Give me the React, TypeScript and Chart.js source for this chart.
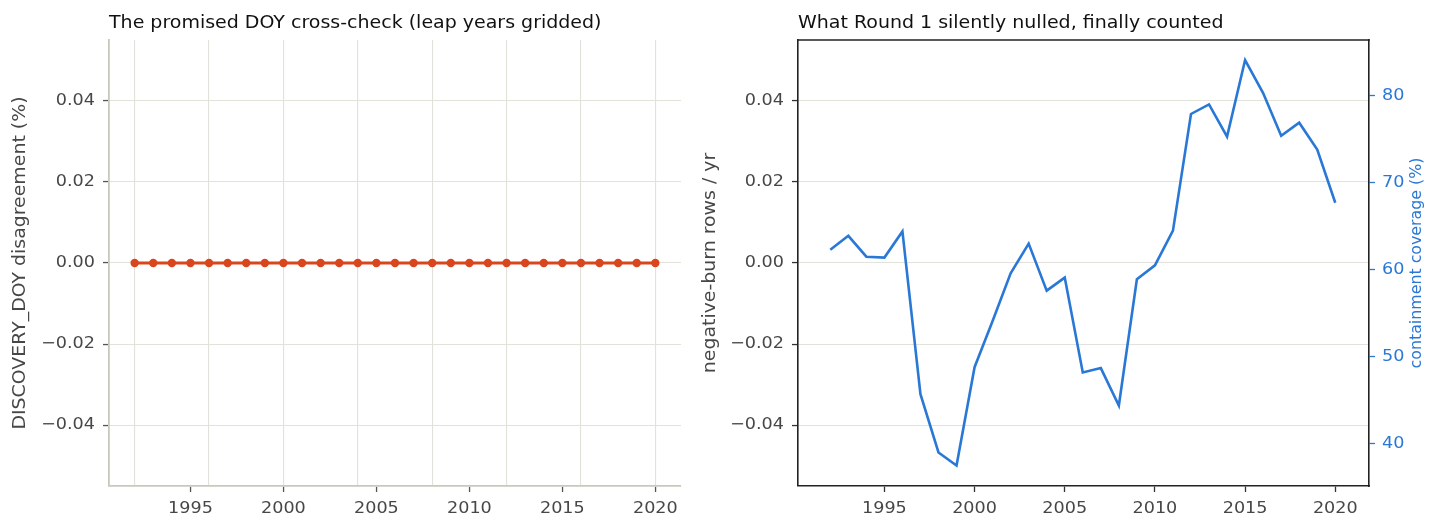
import React, { useEffect, useRef } from "react";
import { Chart, registerables } from "chart.js";
Chart.register(...registerables);

// ---------- data ----------
const years = [
  1992, 1993, 1994, 1995, 1996, 1997, 1998, 1999, 2000, 2001, 2002, 2003, 2004, 2005, 2006,
  2007, 2008, 2009, 2010, 2011, 2012, 2013, 2014, 2015, 2016, 2017, 2018, 2019, 2020,
];
// DISCOVERY_DOY disagreement (%) per year
const doyDisagreement = [
  0, 0, 0, 0, 0, 0, 0, 0, 0, 0, 0, 0, 0, 0, 0, 0, 0, 0, 0, 0, 0, 0, 0, 0, 0, 0, 0, 0, 0,
];
// containment coverage (%) per year
const containmentCoverage = [
  62.3, 63.9, 61.5, 61.4, 64.4, 45.7, 39.0, 37.5, 48.8, 54.1, 59.6, 63.0, 57.6, 59.1, 48.2,
  48.7, 44.4, 58.9, 60.5, 64.5, 77.9, 79.0, 75.3, 84.1, 80.3, 75.4, 76.9, 73.8, 67.7,
];
const leapYears = [1992, 1996, 2000, 2004, 2008, 2012, 2016, 2020];
const yearTicks = [1995, 2000, 2005, 2010, 2015, 2020];
const shareTicks = [-0.04, -0.02, 0, 0.02, 0.04];
const coverageTicks = [40, 50, 60, 70, 80];

const FONT = "DejaVu Sans";
const TEXT = "#474747";
const GRID = "#e2e2da";
const BLUE = "#2a78d6";
const RED = "#d9461e";
const CLEAR = "rgba(0,0,0,0)";

Chart.defaults.font.family = FONT;

const fmtShare = (v: number) =>
  v === 0 ? "0.00" : (v < 0 ? "\u2212" : "") + Math.abs(v).toFixed(2);
const fmtPlain = (v: number) => String(v);

const setTicks = (values: number[]) => (scale: any) => {
  scale.ticks = values.map((v) => ({ value: v }));
};

// the reference text is a touch wider than DejaVu, so text is drawn by hand with a small x-stretch
type TextStyle = {
  size: number;
  sx: number;
  color: string;
  align: CanvasTextAlign;
  baseline: CanvasTextBaseline;
  rotate?: boolean;
};

function drawText(ctx: any, text: string, x: number, y: number, st: TextStyle) {
  ctx.save();
  ctx.translate(x, y);
  if (st.rotate) ctx.rotate(-Math.PI / 2);
  ctx.scale(st.sx, 1);
  ctx.font = `${st.size}px "${FONT}"`;
  ctx.fillStyle = st.color;
  ctx.textAlign = st.align;
  ctx.textBaseline = st.baseline;
  ctx.fillText(text, 0, 0);
  ctx.restore();
}

type AxisText = {
  scale: string;
  values: number[];
  fmt: (v: number) => string;
  color: string;
  side: "left" | "right" | "bottom";
};

type PanelCfg = {
  title: string;
  axes: AxisText[];
  leftLabel: string;
  rightLabel?: string;
  box?: boolean;
};

const TICK = { size: 16, sx: 1.1 };

function panelText(cfg: PanelCfg) {
  return {
    id: "panelText",
    afterDraw(chart: any) {
      const { ctx, chartArea } = chart;
      const midY = (chartArea.top + chartArea.bottom) / 2;

      if (cfg.box) {
        ctx.save();
        ctx.strokeStyle = "#222";
        ctx.lineWidth = 1.6;
        ctx.beginPath();
        ctx.moveTo(chartArea.left - 0.8, chartArea.top);
        ctx.lineTo(chartArea.right + 0.8, chartArea.top);
        ctx.stroke();
        ctx.restore();
      }

      for (const a of cfg.axes) {
        const s = chart.scales[a.scale];
        for (const v of a.values) {
          const p = s.getPixelForValue(v);
          if (a.side === "bottom") {
            drawText(ctx, a.fmt(v), p, chartArea.bottom + 26.5, {
              ...TICK, color: a.color, align: "center", baseline: "alphabetic",
            });
          } else if (a.side === "left") {
            drawText(ctx, a.fmt(v), chartArea.left - 14, p, {
              ...TICK, color: a.color, align: "right", baseline: "middle",
            });
          } else {
            drawText(ctx, a.fmt(v), chartArea.right + 13, p, {
              ...TICK, color: a.color, align: "left", baseline: "middle",
            });
          }
        }
      }

      drawText(ctx, cfg.title, chartArea.left, 28, {
        size: 17.5, sx: 1.085, color: "#111", align: "left", baseline: "alphabetic",
      });
      drawText(ctx, cfg.leftLabel, 20.5, midY, {
        size: 17.5, sx: 1.08, color: TEXT, align: "center", baseline: "middle", rotate: true,
      });
      if (cfg.rightLabel) {
        drawText(ctx, cfg.rightLabel, chartArea.right + 48, midY, {
          size: 15.5, sx: 1.02, color: BLUE, align: "center", baseline: "middle", rotate: true,
        });
      }
    },
  };
}

function DoyPanel() {
  const canvasRef = useRef<HTMLCanvasElement | null>(null);

  useEffect(() => {
    if (!canvasRef.current) return;
    const chart = new Chart(canvasRef.current, {
      type: "line",
      data: {
        datasets: [
          {
            label: "DISCOVERY_DOY disagreement",
            data: years.map((y, i) => ({ x: y, y: doyDisagreement[i] })),
            borderColor: RED,
            backgroundColor: RED,
            borderWidth: 3,
            pointRadius: 4.2,
            pointBorderWidth: 0,
            pointBackgroundColor: RED,
          },
        ],
      },
      options: {
        responsive: true,
        maintainAspectRatio: false,
        animation: false,
        layout: { padding: { top: 40, right: 9, left: 0, bottom: 0 } },
        plugins: { legend: { display: false }, tooltip: { enabled: false } },
        scales: {
          x: {
            type: "linear",
            min: 1990.62,
            max: 2021.38,
            afterBuildTicks: setTicks([...new Set([...leapYears, ...yearTicks])].sort((a, b) => a - b)),
            afterFit: (s: any) => {
              s.height = 45;
            },
            border: { color: "#c8c8bc", width: 1.8 },
            grid: {
              color: (c: any) => (leapYears.includes(c.tick?.value) ? GRID : CLEAR),
              tickColor: (c: any) => (yearTicks.includes(c.tick?.value) ? "#555" : CLEAR),
              lineWidth: 1.1,
              tickLength: 6,
              tickWidth: 1.3,
            },
            ticks: { display: false, autoSkip: false },
          },
          y: {
            min: -0.055,
            max: 0.055,
            afterBuildTicks: setTicks(shareTicks),
            afterFit: (s: any) => {
              s.width = 109;
            },
            border: { color: "#c8c8bc", width: 1.8 },
            grid: { color: GRID, lineWidth: 1.1, tickColor: "#555", tickLength: 6, tickWidth: 1.3 },
            ticks: { display: false },
          },
        },
      },
      plugins: [
        panelText({
          title: "The promised DOY cross-check (leap years gridded)",
          leftLabel: "DISCOVERY_DOY disagreement (%)",
          axes: [
            { scale: "x", values: yearTicks, fmt: fmtPlain, color: TEXT, side: "bottom" },
            { scale: "y", values: shareTicks, fmt: fmtShare, color: TEXT, side: "left" },
          ],
        }),
      ],
    });
    return () => chart.destroy();
  }, []);

  return (
    <div style={{ position: "absolute", left: 0, top: 0, width: 690, height: 531 }}>
      <canvas ref={canvasRef} />
    </div>
  );
}

function CoveragePanel() {
  const canvasRef = useRef<HTMLCanvasElement | null>(null);

  useEffect(() => {
    if (!canvasRef.current) return;
    const chart = new Chart(canvasRef.current, {
      type: "line",
      data: {
        datasets: [
          {
            label: "containment coverage (%)",
            data: years.map((y, i) => ({ x: y, y: containmentCoverage[i] })),
            yAxisID: "y1",
            borderColor: BLUE,
            backgroundColor: BLUE,
            borderWidth: 2.6,
            pointRadius: 0,
            tension: 0,
          },
        ],
      },
      options: {
        responsive: true,
        maintainAspectRatio: false,
        animation: false,
        layout: { padding: { top: 40, right: 0, left: 0, bottom: 0 } },
        plugins: { legend: { display: false }, tooltip: { enabled: false } },
        scales: {
          x: {
            type: "linear",
            min: 1990.21,
            max: 2021.87,
            afterBuildTicks: setTicks(yearTicks),
            afterFit: (s: any) => {
              s.height = 45;
            },
            border: { color: "#222", width: 1.6 },
            grid: { drawOnChartArea: false, tickColor: "#333", tickLength: 6, tickWidth: 1.3 },
            ticks: { display: false, autoSkip: false },
          },
          y: {
            display: true,
            position: "left",
            min: -0.055,
            max: 0.055,
            afterBuildTicks: setTicks(shareTicks),
            afterFit: (s: any) => {
              s.width = 108;
            },
            border: { color: "#222", width: 1.6 },
            grid: { color: GRID, lineWidth: 1.1, tickColor: "#333", tickLength: 6, tickWidth: 1.3 },
            ticks: { display: false },
          },
          y1: {
            position: "right",
            min: 35.15,
            max: 86.4,
            afterBuildTicks: setTicks(coverageTicks),
            afterFit: (s: any) => {
              s.width = 71;
            },
            border: { color: "#222", width: 1.6 },
            grid: { drawOnChartArea: false, tickColor: BLUE, tickLength: 6, tickWidth: 1.3 },
            ticks: { display: false },
          },
        },
      },
      plugins: [
        panelText({
          title: "What Round 1 silently nulled, finally counted",
          leftLabel: "negative-burn rows / yr",
          rightLabel: "containment coverage (%)",
          box: true,
          axes: [
            { scale: "x", values: yearTicks, fmt: fmtPlain, color: TEXT, side: "bottom" },
            { scale: "y", values: shareTicks, fmt: fmtShare, color: TEXT, side: "left" },
            { scale: "y1", values: coverageTicks, fmt: fmtPlain, color: BLUE, side: "right" },
          ],
        }),
      ],
    });
    return () => chart.destroy();
  }, []);

  return (
    <div style={{ position: "absolute", left: 690, top: 0, width: 750, height: 531 }}>
      <canvas ref={canvasRef} />
    </div>
  );
}

export default function App() {
  return (
    <div
      style={{
        position: "absolute",
        left: 0,
        top: 0,
        width: 1440,
        height: 531,
        background: "#fff",
        overflow: "hidden",
      }}
    >
      <DoyPanel />
      <CoveragePanel />
    </div>
  );
}
